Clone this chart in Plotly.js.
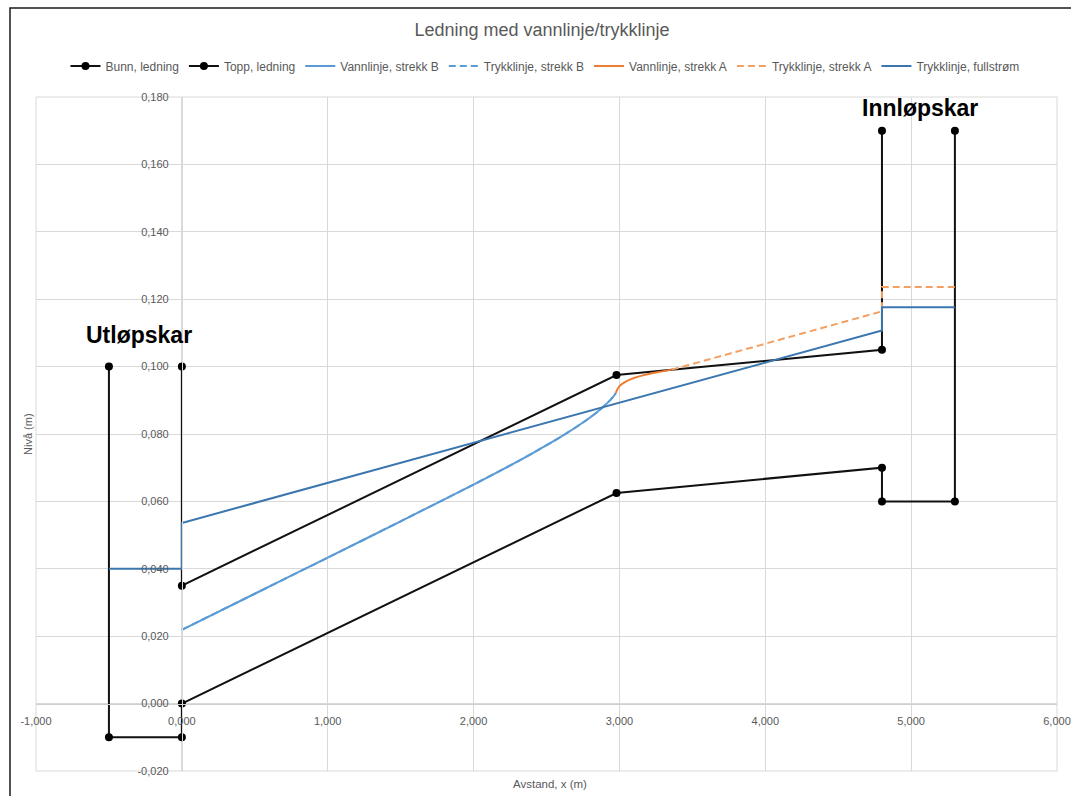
<!DOCTYPE html>
<html>
<head>
<meta charset="utf-8">
<script src="https://cdn.plot.ly/plotly-3.0.1.min.js"></script>
<style>
  html, body { margin: 0; padding: 0; background: #fff; }
  #chart { width: 1071px; height: 796px; }
</style>
</head>
<body>
<div id="chart"></div>
<script>
// ---- Data (x in m, level in m) ----
const bunnX = [-0.5, -0.5, 0, 0, 2.98, 4.8, 4.8, 5.3, 5.3];
const bunnY = [0.100, -0.010, -0.010, 0.000, 0.0625, 0.0700, 0.0600, 0.0600, 0.1700];

const toppX = [0, 0, 2.98, 4.8, 4.8];
const toppY = [0.100, 0.035, 0.0975, 0.1050, 0.1700];

const vannBX = [0, 0.5, 1.0, 1.5, 2.0, 2.2, 2.4, 2.6, 2.75, 2.85, 2.92, 2.96, 2.975];
const vannBY = [0.0219, 0.0326, 0.0433, 0.0541, 0.0650, 0.0695, 0.0742, 0.0792, 0.0834, 0.0866, 0.0893, 0.0912, 0.0922];

const trykkBX = vannBX.slice();
const trykkBY = vannBY.slice();

const vannAX = [2.975, 2.99, 3.01, 3.05, 3.10, 3.16, 3.27, 3.36];
const vannAY = [0.0922, 0.0936, 0.0946, 0.0957, 0.0966, 0.0974, 0.0984, 0.0991];

const trykkAX = [3.36, 4.8, 4.8, 5.3];
const trykkAY = [0.0991, 0.1164, 0.1236, 0.1236];

const fullX = [-0.5, 0, 0, 4.8, 4.8, 5.3];
const fullY = [0.0400, 0.0400, 0.0536, 0.1107, 0.1176, 0.1176];

const xTickVals = [-1, 0, 1, 2, 3, 4, 5, 6];
const xTickText = ['-1,000', '0,000', '1,000', '2,000', '3,000', '4,000', '5,000', '6,000'];
const yTickVals = [-0.02, 0, 0.02, 0.04, 0.06, 0.08, 0.10, 0.12, 0.14, 0.16, 0.18];
const yTickText = ['-0,020', '0,000', '0,020', '0,040', '0,060', '0,080', '0,100', '0,120', '0,140', '0,160', '0,180'];

const seriesNames = ['Bunn, ledning', 'Topp, ledning', 'Vannlinje, strekk B', 'Trykklinje, strekk B',
                     'Vannlinje, strekk A', 'Trykklinje, strekk A', 'Trykklinje, fullstrøm'];

// ---- Traces ----
const traces = [
  { x: bunnX, y: bunnY, name: seriesNames[0], mode: 'lines+markers',
    line: { color: '#111111', width: 2 }, marker: { color: '#000', size: 8 } },
  { x: toppX, y: toppY, name: seriesNames[1], mode: 'lines+markers',
    line: { color: '#111111', width: 2 }, marker: { color: '#000', size: 8 } },
  { x: vannBX, y: vannBY, name: seriesNames[2], mode: 'lines',
    line: { color: '#5B9BD5', width: 2, shape: 'spline', smoothing: 0.8 } },
  { x: trykkBX, y: trykkBY, name: seriesNames[3], mode: 'lines',
    line: { color: '#5B9BD5', width: 2, dash: '7px,4px', shape: 'spline', smoothing: 0.8 } },
  { x: vannAX, y: vannAY, name: seriesNames[4], mode: 'lines',
    line: { color: '#ED7D31', width: 2, shape: 'spline', smoothing: 0.8 } },
  { x: trykkAX, y: trykkAY, name: seriesNames[5], mode: 'lines',
    line: { color: '#F3A063', width: 2, dash: '7px,4px' } },
  { x: fullX, y: fullY, name: seriesNames[6], mode: 'lines',
    line: { color: '#3B76AE', width: 2 } }
];

const W = 1071, H = 796;
const mL = 36, mR = 14, mT = 97, mB = 25;
const pw = W - mL - mR, ph = H - mT - mB;
const px = p => (p - mL) / pw;
const py = p => (H - mB - p) / ph;

const layout = {
  width: W, height: H,
  margin: { l: mL, r: mR, t: mT, b: mB, pad: 0 },
  paper_bgcolor: '#ffffff',
  plot_bgcolor: '#ffffff',
  separators: ',.',
  font: { family: 'Liberation Sans, Arial, sans-serif', color: '#595959', size: 11 },
  title: {
    text: 'Ledning med vannlinje/trykklinje',
    font: { size: 18, color: '#595959', family: 'Liberation Sans, Arial, sans-serif' },
    xref: 'paper', x: px(542), xanchor: 'center',
    yref: 'container', y: 1 - 30 / H, yanchor: 'middle'
  },
  showlegend: true,
  legend: {
    orientation: 'h', x: px(545), xanchor: 'center', y: py(66), yanchor: 'middle',
    font: { size: 12, color: '#595959' }, bgcolor: 'rgba(0,0,0,0)',
    itemwidth: 30, tracegroupgap: 0
  },
  xaxis: {
    range: [-1, 6], tickmode: 'array', tickvals: xTickVals, ticktext: xTickText,
    showgrid: true, gridcolor: '#d9d9d9', gridwidth: 1,
    zeroline: false, showline: true, linecolor: '#d0d0d0', linewidth: 1.5,
    anchor: 'free', position: 0.1, ticks: '', ticklabelstandoff: 7,
    tickfont: { size: 11, color: '#595959' }, fixedrange: true
  },
  yaxis: {
    range: [-0.02, 0.18], tickmode: 'array', tickvals: yTickVals, ticktext: yTickText,
    showgrid: true, gridcolor: '#d9d9d9', gridwidth: 1,
    zeroline: false, showline: true, linecolor: '#d9d9d9', linewidth: 1,
    anchor: 'free', position: 1 / 7, ticks: '', ticklabelstandoff: 11,
    tickfont: { size: 11, color: '#595959' }, fixedrange: true
  },
  shapes: [
    { type: 'rect', xref: 'paper', yref: 'paper', x0: 0, x1: 1, y0: 0, y1: 1,
      line: { color: '#d9d9d9', width: 1 }, layer: 'below' },
    { type: 'rect', xref: 'paper', yref: 'paper', x0: px(10), x1: px(1090), y0: py(820), y1: py(8),
      line: { color: '#1a1a1a', width: 1.5 } }
  ],
  annotations: [
    { text: '<b>Utløpskar</b>', xref: 'paper', yref: 'paper', x: px(139), y: py(335),
      xanchor: 'center', yanchor: 'middle', showarrow: false,
      font: { size: 23, color: '#000', family: 'Liberation Sans, Arial, sans-serif' } },
    { text: '<b>Innløpskar</b>', xref: 'paper', yref: 'paper', x: px(920), y: py(108),
      xanchor: 'center', yanchor: 'middle', showarrow: false,
      font: { size: 23, color: '#000', family: 'Liberation Sans, Arial, sans-serif' } },
    { text: 'Nivå (m)', xref: 'paper', yref: 'paper', x: px(28), y: py(434),
      xanchor: 'center', yanchor: 'middle', textangle: -90, showarrow: false,
      font: { size: 11, color: '#595959' } },
    { text: 'Avstand, x (m)', xref: 'paper', yref: 'paper', x: px(550), y: py(784),
      xanchor: 'center', yanchor: 'middle', showarrow: false,
      font: { size: 11.5, color: '#595959' } }
  ]
};

Plotly.newPlot('chart', traces, layout, { displayModeBar: false, staticPlot: true });
</script>
</body>
</html>
